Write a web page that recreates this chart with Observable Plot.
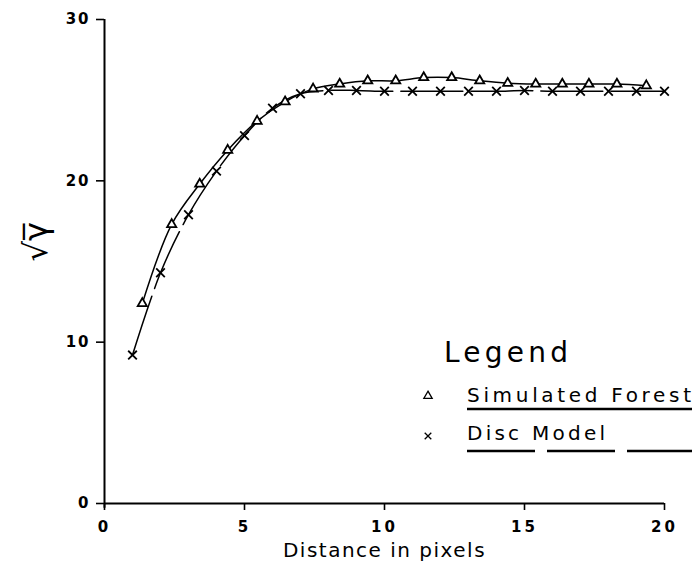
<!DOCTYPE html>
<html><head><meta charset="utf-8">
<script src="https://cdn.jsdelivr.net/npm/d3@7"></script>
<script src="https://cdn.jsdelivr.net/npm/@observablehq/plot@0.6"></script>
<style>
body{margin:0;background:#fff;}
#chart{width:696px;height:570px;}
svg [aria-label="x-axis tick label"] text{letter-spacing:3px;}
svg [aria-label="y-axis tick label"] text{letter-spacing:2px;}
</style></head><body><div id="chart"></div>
<script>
// Simulated Forest (triangles)
const forestX = [1.35, 2.4, 3.4, 4.4, 5.45, 6.45, 7.45, 8.4, 9.4, 10.4, 11.4, 12.4, 13.4, 14.4, 15.4, 16.35, 17.3, 18.3, 19.35];
const forestY = [12.4, 17.3, 19.8, 21.9, 23.7, 24.9, 25.7, 26.0, 26.2, 26.2, 26.4, 26.4, 26.2, 26.05, 26.0, 26.0, 26.0, 26.0, 25.9];
// Disc Model (crosses)
const discX = [1, 2, 3, 4, 5, 6, 7, 8, 9, 10, 11, 12, 13, 14, 15, 16, 17, 18, 19, 20];
const discY = [9.2, 14.3, 17.9, 20.6, 22.8, 24.5, 25.4, 25.6, 25.6, 25.55, 25.55, 25.55, 25.55, 25.55, 25.6, 25.55, 25.55, 25.55, 25.55, 25.55];
const xTicks = [0, 5, 10, 15, 20];
const yTicks = [0, 10, 20, 30];
const xLabel = "Distance in pixels";
const yLabel = "\u221A\u03B3\u0305";
const legendTitle = "Legend";
const seriesNames = ["Simulated Forest", "Disc Model"];

const forest = forestX.map((x, i) => ({x, y: forestY[i]}));
const disc = discX.map((x, i) => ({x, y: discY[i]}));

const font = "DejaVu Sans";
const chart = Plot.plot({
  width: 696, height: 570,
  marginLeft: 104, marginRight: 32, marginTop: 19, marginBottom: 67,
  style: {fontFamily: font, background: "white", color: "black"},
  x: {domain: [0, 20]},
  y: {domain: [0, 30]},
  marks: [
    Plot.axisX({ticks: xTicks, tickSize: 7, tickPadding: 11, label: null, fontSize: 15, fontWeight: "bold", strokeWidth: 1.6}),
    Plot.axisY({ticks: yTicks, tickSize: 8, tickPadding: 6, label: null, fontSize: 15, fontWeight: "bold", strokeWidth: 1.6}),
    Plot.ruleY([0], {strokeWidth: 2}),
    Plot.ruleX([0], {y1: -0.3, y2: 30, strokeWidth: 2}),
    Plot.line(forest, {x: "x", y: "y", curve: "catmull-rom", stroke: "black", strokeWidth: 1.5}),
    Plot.line(disc, {x: "x", y: "y", curve: "catmull-rom", stroke: "black", strokeWidth: 1.5, strokeDasharray: "62,8"}),
    Plot.dot(forest, {x: "x", y: "y", symbol: "triangle", r: 3.4, stroke: "black", fill: "white", strokeWidth: 1.8}),
    Plot.dot(disc, {x: "x", y: "y", symbol: "times", r: 4, stroke: "black", strokeWidth: 1.8}),
    Plot.text([xLabel], {frameAnchor: "bottom", dy: 53, fontSize: 20, fill: "black"}),
    Plot.text([yLabel], {frameAnchor: "left", dx: -68, rotate: -90, fontSize: 32, fill: "black"})
  ]
});
document.getElementById("chart").appendChild(chart);

// letter spacing for axis title
d3.select(chart).selectAll("text").filter(function(){return this.textContent === xLabel;}).style("letter-spacing", "1.5px");

// Legend
const svg = d3.select(chart);
const g = svg.append("g").attr("font-family", font).attr("fill", "black").attr("text-anchor", "start");
g.append("text").attr("x", 444).attr("y", 362).attr("font-size", 28).attr("textLength", 124).attr("lengthAdjust", "spacing").text(legendTitle);
g.append("text").attr("x", 467).attr("y", 402).attr("font-size", 20).attr("textLength", 224).attr("lengthAdjust", "spacing").text(seriesNames[0]);
g.append("text").attr("x", 467).attr("y", 440).attr("font-size", 20).attr("textLength", 138).attr("lengthAdjust", "spacing").text(seriesNames[1]);
g.append("line").attr("x1", 467).attr("x2", 692).attr("y1", 409).attr("y2", 409).attr("stroke", "black").attr("stroke-width", 2.5);
g.append("line").attr("x1", 467).attr("x2", 692).attr("y1", 451).attr("y2", 451).attr("stroke", "black").attr("stroke-width", 2.5).attr("stroke-dasharray", "68,12");
g.append("path").attr("transform", "translate(428,396)").attr("d", d3.symbol(d3.symbolTriangle, 30)()).attr("fill", "none").attr("stroke", "black").attr("stroke-width", 1.3);
g.append("path").attr("transform", "translate(428,436)").attr("d", d3.symbol(d3.symbolTimes, 30)()).attr("fill", "none").attr("stroke", "black").attr("stroke-width", 1.3);
</script>
</body></html>
